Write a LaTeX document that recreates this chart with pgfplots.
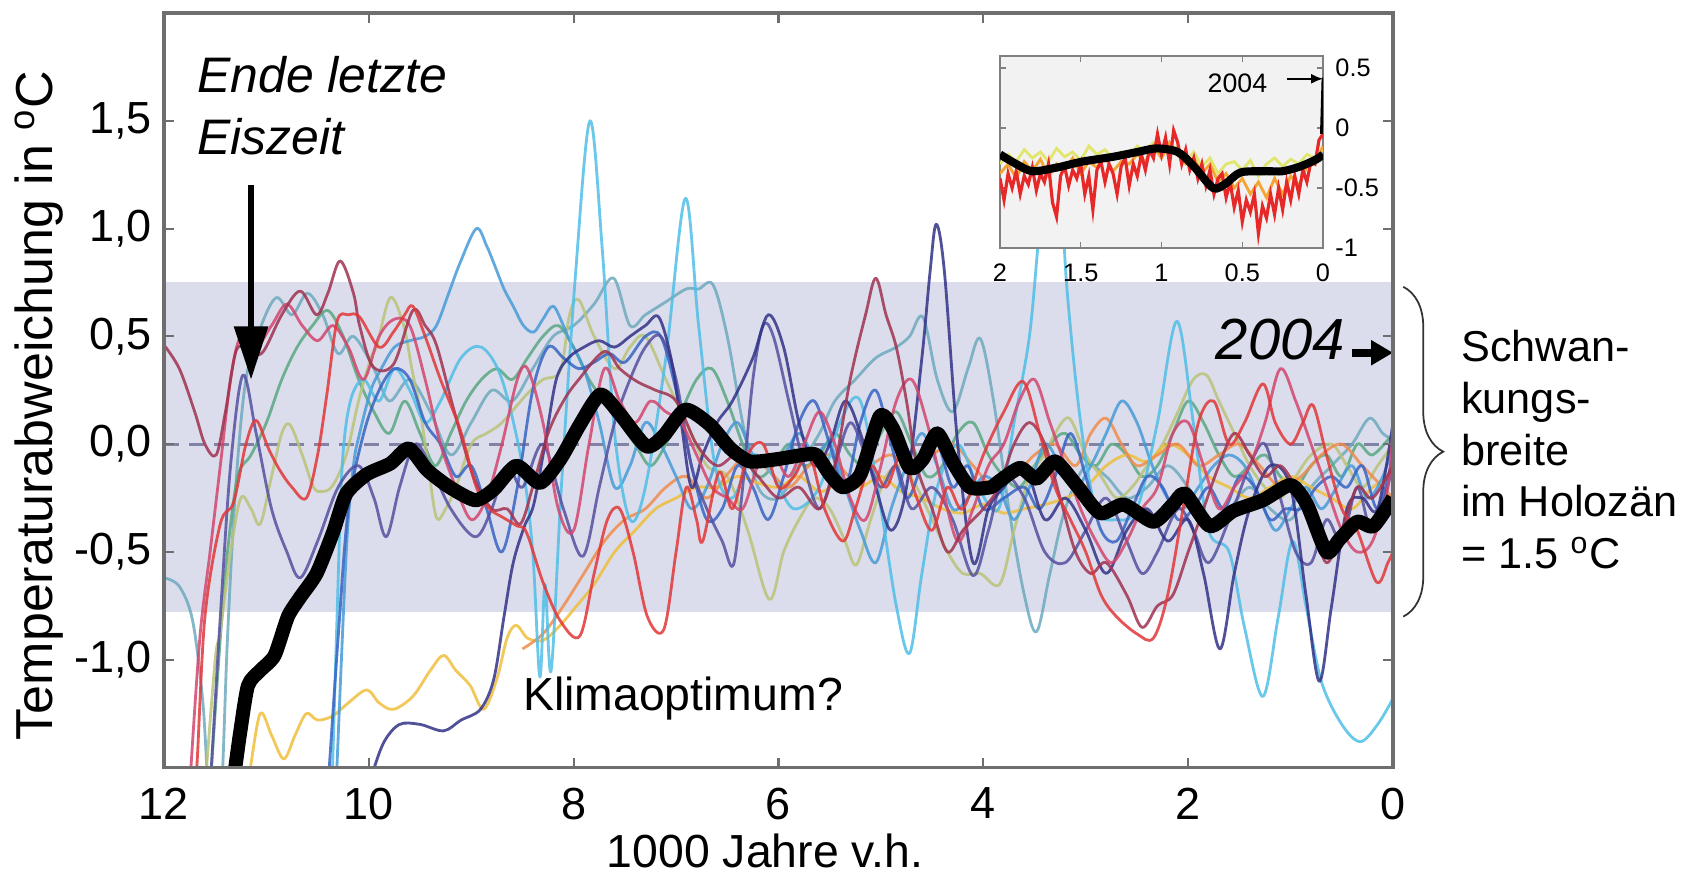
\documentclass[border=0pt]{standalone}
\usepackage{pgfplots}
\pgfplotsset{compat=1.18}
\usepackage{fontspec}
\setmainfont{Liberation Sans}
\usetikzlibrary{arrows.meta,decorations.pathreplacing}
\definecolor{bandcol}{RGB}{220,221,236}
\definecolor{zerodash}{RGB}{130,130,165}
\definecolor{framecol}{RGB}{110,110,110}
\definecolor{insetbg}{RGB}{242,242,242}
\definecolor{cyanL}{RGB}{80,190,230}
\definecolor{sky}{RGB}{70,155,215}
\definecolor{tealC}{RGB}{110,170,190}
\definecolor{navy}{RGB}{50,50,135}
\definecolor{purp}{RGB}{85,80,160}
\definecolor{blueR}{RGB}{55,100,195}
\definecolor{redC}{RGB}{225,55,55}
\definecolor{maroon}{RGB}{160,50,80}
\definecolor{crimson}{RGB}{210,70,110}
\definecolor{orangeC}{RGB}{240,140,75}
\definecolor{yellowC}{RGB}{238,190,60}
\definecolor{ygreen}{RGB}{185,196,120}
\definecolor{greenC}{RGB}{90,168,130}
\definecolor{insetred}{RGB}{230,40,40}
\definecolor{insetyel}{RGB}{225,230,110}
\definecolor{insetora}{RGB}{245,165,50}
\begin{document}
\begin{tikzpicture}
\useasboundingbox (-1.64,-1.065) rectangle (15.26,7.675);
\begin{axis}[
  at={(0,0)}, anchor=south west,
  scale only axis, width=12.29cm, height=7.545cm,
  xmin=0, xmax=12, x dir=reverse, ymin=-1.5, ymax=2.0,
  xtick={0,2,4,6,8,10,12}, xticklabels={0,2,4,6,8,10,12},
  ytick={-1,-0.5,0,0.5,1,1.5},
  yticklabels={{-1,0},{-0,5},{0,0},{0,5},{1,0},{1,5}},
  tick align=inside, major tick length=0.1cm,
  tick style={color=framecol, line width=0.6pt},
  axis line style={color=framecol, line width=0.9pt},
  ticklabel style={font=\fontsize{12.8}{15}\selectfont},
  xticklabel style={anchor=center, yshift=-0.36cm},
  yticklabel style={anchor=east},
  xlabel={1000 Jahre v.h.},
  xlabel style={at={(axis description cs:0.489,-0.1107)}, anchor=center, font=\fontsize{13.2}{16}\selectfont},
  ylabel={Temperaturabweichung in \textsuperscript{o}C},
  ylabel style={at={(axis description cs:-0.1017,0.48)}, anchor=center, font=\fontsize{14.8}{17}\selectfont},
  clip mode=individual, axis on top,
  every axis plot/.append style={line join=round},
]
% band and zero line
\addplot[fill=bandcol, draw=none] coordinates {(12,-0.78) (0,-0.78) (0,0.75) (12,0.75)};
\addplot[color=zerodash, line width=0.8pt, dash pattern=on 1.5mm off 1mm] coordinates {(12,0) (0,0)};

\pgfplotsset{proxy/.style={smooth, tension=0.55, line width=0.8pt, draw opacity=0.85}}
% teal
\addplot[proxy, color=tealC] coordinates {(12,-0.62) (11.85,-0.66) (11.72,-0.82) (11.62,-1.2) (11.55,-1.7) (11.45,-1.7) (11.38,-0.9) (11.3,-0.2) (11.2,0.3) (11.05,0.55) (10.9,0.68) (10.75,0.6) (10.6,0.7) (10.45,0.6) (10.3,0.42) (10.15,0.5) (9.95,0.35) (9.8,0.2) (9.6,0.3) (9.4,0.15) (9.2,-0.05) (9.0,0.1) (8.8,0.25) (8.6,0.2) (8.4,0.35) (8.2,0.5) (8.0,0.55) (7.8,0.65) (7.61,0.77) (7.45,0.55) (7.3,0.6) (7.1,0.66) (6.9,0.72) (6.78,0.72) (6.64,0.74) (6.5,0.5) (6.35,0.1) (6.2,-0.2) (6.0,-0.25) (5.8,-0.1) (5.6,0.05) (5.45,0.2) (5.25,0.3) (5.05,0.4) (4.85,0.45) (4.72,0.5) (4.59,0.59) (4.45,0.3) (4.3,0.15) (4.15,0.35) (4.03,0.49) (3.9,0.2) (3.75,-0.3) (3.6,-0.7) (3.48,-0.87) (3.35,-0.6) (3.2,-0.3) (3.0,-0.1) (2.8,-0.15) (2.6,-0.25) (2.4,-0.2) (2.2,-0.1) (2.0,-0.2) (1.8,-0.35) (1.6,-0.3) (1.4,-0.2) (1.2,-0.3) (1.0,-0.35) (0.8,-0.2) (0.6,-0.1) (0.4,0.0) (0.23,0.12) (0.1,0.05) (0.0,0.02)};
% green
\addplot[proxy, color=greenC] coordinates {(11.55,-1.6) (11.45,-0.9) (11.38,-0.5) (11.28,-0.15) (11.15,-0.05) (11.0,0.1) (10.85,0.3) (10.7,0.45) (10.55,0.55) (10.4,0.62) (10.25,0.5) (10.1,0.3) (9.95,0.15) (9.8,0.05) (9.65,0.2) (9.5,0.05) (9.35,-0.1) (9.2,0.05) (9.05,0.2) (8.9,0.3) (8.75,0.35) (8.6,0.3) (8.45,0.4) (8.3,0.5) (8.15,0.55) (8.0,0.45) (7.85,0.3) (7.7,0.2) (7.55,0.1) (7.4,0.0) (7.25,-0.1) (7.1,0.0) (6.95,0.15) (6.8,0.3) (6.65,0.35) (6.5,0.2) (6.35,0.0) (6.2,-0.15) (6.05,-0.1) (5.9,0.0) (5.75,-0.1) (5.6,-0.05) (5.45,0.05) (5.3,-0.05) (5.15,-0.1) (5.0,0.05) (4.85,0.15) (4.7,0.0) (4.55,-0.15) (4.4,-0.1) (4.25,0.05) (4.1,0.1) (3.95,-0.05) (3.8,-0.15) (3.65,-0.2) (3.5,-0.1) (3.35,0.0) (3.2,0.05) (3.05,-0.05) (2.9,-0.1) (2.75,0.0) (2.6,-0.05) (2.45,-0.15) (2.3,-0.1) (2.15,0.05) (2.0,0.2) (1.85,0.1) (1.7,-0.05) (1.55,-0.15) (1.4,-0.1) (1.25,-0.05) (1.1,-0.15) (0.95,-0.2) (0.8,-0.1) (0.65,-0.05) (0.5,-0.15) (0.35,0.0) (0.2,-0.05) (0.0,0.05)};
% yellow-green
\addplot[proxy, color=ygreen] coordinates {(11.6,-1.6) (11.5,-1.0) (11.45,-0.87) (11.35,-0.5) (11.25,-0.25) (11.15,-0.3) (11.06,-0.37) (10.95,-0.15) (10.85,0.05) (10.77,0.09) (10.65,-0.05) (10.54,-0.2) (10.45,-0.22) (10.35,-0.19) (10.22,-0.05) (10.1,0.2) (9.98,0.4) (9.92,0.46) (9.79,0.68) (9.66,0.55) (9.58,0.35) (9.5,0.16) (9.42,-0.1) (9.34,-0.34) (9.25,-0.3) (9.15,-0.2) (9.0,0.0) (8.85,0.05) (8.7,0.1) (8.46,0.23) (8.3,0.3) (8.13,0.34) (8.04,0.6) (7.95,0.67) (7.8,0.5) (7.6,0.35) (7.45,0.45) (7.3,0.5) (7.1,0.3) (6.9,0.1) (6.7,-0.1) (6.5,-0.15) (6.3,-0.4) (6.09,-0.72) (5.95,-0.5) (5.8,-0.35) (5.65,-0.25) (5.5,-0.3) (5.35,-0.45) (5.24,-0.56) (5.1,-0.35) (4.95,-0.15) (4.8,-0.1) (4.65,-0.2) (4.5,-0.35) (4.35,-0.5) (4.2,-0.6) (4.03,-0.6) (3.84,-0.65) (3.7,-0.4) (3.55,-0.15) (3.4,-0.05) (3.3,0.05) (3.16,0.12) (3.0,-0.05) (2.85,-0.15) (2.7,-0.25) (2.55,-0.2) (2.4,-0.1) (2.25,0.0) (2.1,0.15) (1.95,0.3) (1.82,0.32) (1.7,0.2) (1.55,0.05) (1.4,-0.1) (1.25,-0.2) (1.1,-0.25) (0.95,-0.15) (0.8,-0.05) (0.6,0.0) (0.45,-0.1) (0.3,-0.2) (0.15,-0.1) (0.0,0.0)};
% yellow
\addplot[proxy, color=yellowC] coordinates {(11.2,-1.6) (11.16,-1.51) (11.06,-1.25) (10.95,-1.35) (10.83,-1.46) (10.72,-1.35) (10.61,-1.25) (10.5,-1.28) (10.35,-1.26) (10.2,-1.2) (10.02,-1.14) (9.9,-1.2) (9.76,-1.23) (9.57,-1.17) (9.4,-1.05) (9.27,-0.98) (9.15,-1.05) (9.01,-1.12) (8.88,-1.23) (8.75,-1.09) (8.65,-0.9) (8.56,-0.84) (8.45,-0.9) (8.3,-0.91) (8.15,-0.85) (7.97,-0.75) (7.8,-0.65) (7.6,-0.5) (7.4,-0.4) (7.2,-0.3) (7.0,-0.25) (6.8,-0.2) (6.6,-0.2) (6.4,-0.15) (6.2,-0.18) (6.0,-0.2) (5.8,-0.15) (5.6,-0.22) (5.4,-0.18) (5.2,-0.2) (5.0,-0.15) (4.8,-0.22) (4.6,-0.25) (4.4,-0.3) (4.2,-0.32) (4.0,-0.28) (3.8,-0.32) (3.6,-0.3) (3.4,-0.28) (3.2,-0.25) (3.0,-0.2) (2.8,-0.1) (2.6,-0.05) (2.4,-0.08) (2.2,0.0) (2.0,-0.05) (1.8,-0.15) (1.6,-0.2) (1.4,-0.25) (1.2,-0.2) (1.0,-0.15) (0.8,-0.2) (0.6,-0.25) (0.4,-0.3) (0.2,-0.2) (0.0,-0.15)};
% orange
\addplot[proxy, color=orangeC] coordinates {(8.5,-0.95) (8.3,-0.88) (8.1,-0.75) (7.9,-0.6) (7.7,-0.45) (7.5,-0.35) (7.3,-0.3) (7.1,-0.2) (6.9,-0.15) (6.7,-0.25) (6.5,-0.14) (6.3,-0.05) (6.1,-0.12) (5.9,-0.2) (5.7,-0.1) (5.5,-0.05) (5.3,-0.15) (5.11,-0.1) (4.9,-0.05) (4.7,-0.12) (4.5,-0.05) (4.3,0.0) (4.1,-0.1) (3.9,-0.2) (3.7,-0.15) (3.5,-0.05) (3.3,0.0) (3.1,-0.1) (2.95,0.05) (2.8,0.12) (2.65,0.0) (2.5,-0.1) (2.3,-0.05) (2.1,0.0) (1.9,-0.1) (1.7,-0.05) (1.5,0.0) (1.3,-0.1) (1.1,-0.2) (0.9,-0.15) (0.7,-0.05) (0.5,0.0) (0.3,-0.1) (0.1,-0.2) (0.0,-0.25)};
% sky blue
\addplot[proxy, color=sky] coordinates {(10.32,-1.6) (10.22,-0.5) (10.15,-0.1) (10.09,0.05) (9.98,0.25) (9.89,0.34) (9.75,0.45) (9.6,0.48) (9.45,0.5) (9.34,0.55) (9.22,0.7) (9.11,0.84) (8.95,1.0) (8.85,0.92) (8.78,0.84) (8.68,0.72) (8.59,0.64) (8.49,0.55) (8.39,0.52) (8.3,0.58) (8.2,0.64) (8.1,0.55) (8.04,0.48) (7.9,0.35) (7.75,0.1) (7.6,-0.2) (7.45,-0.1) (7.3,0.1) (7.15,0.0) (7.0,-0.15) (6.85,-0.3) (6.7,-0.2) (6.55,0.0) (6.4,0.1) (6.25,-0.05) (6.1,-0.1) (5.95,-0.05) (5.8,0.05) (5.65,-0.05) (5.5,0.0) (5.35,-0.2) (5.2,-0.4) (5.05,-0.55) (4.9,-0.3) (4.75,-0.1) (4.6,0.05) (4.45,-0.1) (4.3,-0.3) (4.15,-0.25) (4.0,-0.15) (3.85,-0.2) (3.7,-0.35) (3.55,-0.2) (3.4,0.0) (3.25,-0.1) (3.1,-0.2) (2.95,-0.1) (2.8,0.05) (2.65,0.2) (2.5,0.1) (2.35,-0.1) (2.2,-0.25) (2.05,-0.3) (1.9,-0.2) (1.75,-0.1) (1.6,-0.05) (1.45,-0.1) (1.3,-0.25) (1.15,-0.4) (1.0,-0.3) (0.85,-0.2) (0.7,-0.3) (0.55,-0.2) (0.4,-0.1) (0.25,-0.25) (0.1,-0.15) (0.0,0.0)};
% cyan
\addplot[proxy, color=cyanL] coordinates {(10.36,-1.6) (10.31,-0.8) (10.26,-0.1) (10.18,0.2) (10.05,0.3) (9.9,0.2) (9.75,0.35) (9.6,0.25) (9.45,0.1) (9.3,0.2) (9.1,0.4) (8.9,0.45) (8.7,0.3) (8.5,-0.1) (8.4,-0.5) (8.33,-1.08) (8.28,-0.65) (8.22,-1.05) (8.12,-0.2) (7.98,0.8) (7.84,1.5) (7.72,0.9) (7.6,0.05) (7.45,-0.35) (7.3,-0.2) (7.1,0.4) (6.91,1.14) (6.78,0.55) (6.62,-0.1) (6.45,-0.25) (6.25,-0.05) (6.05,-0.15) (5.85,-0.3) (5.6,-0.2) (5.4,0.1) (5.2,0.2) (5.0,-0.3) (4.85,-0.75) (4.72,-0.97) (4.6,-0.6) (4.45,-0.2) (4.25,0.0) (4.05,-0.2) (3.85,-0.3) (3.7,0.1) (3.55,0.5) (3.45,1.0) (3.35,1.35) (3.25,1.2) (3.18,0.7) (3.05,0.1) (2.9,-0.3) (2.7,-0.35) (2.5,-0.3) (2.3,0.1) (2.11,0.57) (1.95,0.1) (1.8,-0.4) (1.6,-0.5) (1.45,-0.85) (1.27,-1.17) (1.12,-0.8) (0.98,-0.45) (0.85,-0.75) (0.7,-1.1) (0.5,-1.3) (0.32,-1.38) (0.15,-1.3) (0.0,-1.18)};
% royal blue
\addplot[proxy, color=blueR] coordinates {(10.4,-1.6) (10.3,-0.9) (10.2,-0.3) (10.05,0.05) (9.9,0.25) (9.75,0.35) (9.6,0.3) (9.45,0.1) (9.3,0.0) (9.15,-0.15) (9.0,-0.1) (8.85,-0.3) (8.7,-0.5) (8.55,-0.2) (8.4,0.25) (8.25,0.45) (8.1,0.4) (7.95,0.35) (7.8,0.38) (7.65,0.42) (7.5,0.38) (7.3,0.5) (7.15,0.5) (7.0,0.25) (6.85,-0.1) (6.7,-0.35) (6.55,-0.3) (6.4,-0.1) (6.25,-0.2) (6.1,-0.35) (5.95,-0.15) (5.8,0.1) (5.65,0.2) (5.5,0.0) (5.35,-0.2) (5.2,0.1) (5.05,0.25) (4.9,0.0) (4.75,-0.25) (4.6,-0.1) (4.45,0.0) (4.3,-0.2) (4.15,-0.1) (4.0,-0.3) (3.8,-0.25) (3.6,-0.2) (3.45,-0.3) (3.3,-0.15) (3.15,0.05) (3.0,-0.15) (2.85,-0.4) (2.7,-0.45) (2.55,-0.3) (2.4,-0.15) (2.25,-0.2) (2.1,-0.35) (1.95,-0.3) (1.8,-0.2) (1.65,-0.3) (1.5,-0.15) (1.35,-0.2) (1.2,-0.35) (1.05,-0.3) (0.9,-0.3) (0.75,-0.2) (0.6,-0.15) (0.45,-0.2) (0.3,-0.1) (0.15,-0.3) (0.0,-0.05)};
% purple navy
\addplot[proxy, color=purp] coordinates {(11.55,-1.6) (11.45,-0.8) (11.35,-0.1) (11.23,0.32) (11.1,0.05) (10.95,-0.3) (10.8,-0.5) (10.67,-0.62) (10.5,-0.45) (10.3,-0.2) (10.1,-0.1) (9.95,-0.25) (9.83,-0.43) (9.7,-0.2) (9.55,0.0) (9.4,-0.1) (9.2,-0.3) (8.96,-0.43) (8.8,-0.3) (8.65,-0.1) (8.5,-0.2) (8.3,0.0) (8.1,-0.3) (7.91,-0.52) (7.75,-0.2) (7.6,0.1) (7.45,0.3) (7.3,0.45) (7.15,0.5) (7.0,0.3) (6.85,-0.1) (6.7,-0.3) (6.55,-0.45) (6.44,-0.56) (6.35,-0.2) (6.25,0.3) (6.15,0.55) (6.05,0.5) (5.9,0.2) (5.75,-0.1) (5.6,-0.3) (5.45,-0.1) (5.3,0.1) (5.15,-0.05) (5.0,-0.2) (4.85,-0.1) (4.7,-0.3) (4.5,-0.2) (4.3,-0.35) (4.1,-0.61) (3.95,-0.4) (3.8,-0.15) (3.6,-0.25) (3.4,-0.5) (3.2,-0.55) (3.0,-0.4) (2.8,-0.25) (2.6,-0.45) (2.45,-0.6) (2.3,-0.5) (2.1,-0.3) (1.95,-0.4) (1.8,-0.55) (1.6,-0.35) (1.4,-0.1) (1.25,0.0) (1.1,-0.25) (0.95,-0.5) (0.8,-0.55) (0.65,-0.35) (0.5,-0.45) (0.35,-0.2) (0.2,-0.4) (0.0,-0.1)};
% navy
\addplot[proxy, color=navy] coordinates {(10.0,-1.6) (9.96,-1.52) (9.85,-1.38) (9.7,-1.3) (9.5,-1.3) (9.27,-1.33) (9.1,-1.28) (8.91,-1.23) (8.78,-1.09) (8.68,-0.8) (8.59,-0.55) (8.48,-0.38) (8.39,-0.28) (8.28,0.0) (8.17,0.3) (8.05,0.4) (7.9,0.45) (7.75,0.48) (7.6,0.45) (7.45,0.5) (7.3,0.55) (7.17,0.59) (7.05,0.4) (6.95,0.1) (6.85,-0.2) (6.74,-0.05) (6.6,0.1) (6.45,0.2) (6.25,0.4) (6.1,0.6) (5.95,0.45) (5.8,0.1) (5.65,-0.1) (5.5,0.0) (5.35,0.2) (5.2,0.05) (5.05,-0.2) (4.9,-0.4) (4.75,-0.2) (4.6,0.4) (4.52,0.8) (4.46,1.02) (4.38,0.8) (4.25,0.0) (4.1,-0.55) (3.95,-0.3) (3.8,-0.2) (3.6,-0.1) (3.4,-0.35) (3.2,-0.25) (3.0,-0.4) (2.8,-0.6) (2.6,-0.4) (2.4,-0.3) (2.2,-0.45) (2.0,-0.35) (1.85,-0.6) (1.69,-0.95) (1.55,-0.6) (1.4,-0.3) (1.2,-0.1) (1.0,-0.2) (0.85,-0.7) (0.72,-1.1) (0.6,-0.75) (0.45,-0.3) (0.3,-0.25) (0.15,-0.3) (0.0,0.1)};
% crimson
\addplot[proxy, color=crimson] coordinates {(11.75,-1.6) (11.65,-0.9) (11.55,-0.5) (11.45,-0.1) (11.35,0.3) (11.25,0.5) (11.1,0.45) (10.95,0.55) (10.8,0.65) (10.65,0.55) (10.5,0.48) (10.35,0.55) (10.2,0.45) (10.05,0.3) (9.9,0.5) (9.75,0.58) (9.6,0.55) (9.45,0.3) (9.3,0.0) (9.15,-0.2) (9.0,-0.35) (8.85,-0.25) (8.7,0.0) (8.55,0.3) (8.45,0.35) (8.3,0.1) (8.15,-0.3) (8.0,-0.4) (7.85,0.0) (7.7,0.35) (7.55,0.2) (7.4,0.1) (7.25,0.2) (7.1,0.15) (6.95,0.1) (6.8,-0.05) (6.65,-0.2) (6.5,-0.25) (6.35,-0.3) (6.2,-0.1) (6.05,-0.05) (5.9,-0.15) (5.75,0.0) (5.6,0.15) (5.45,0.0) (5.3,-0.25) (5.15,-0.35) (5.0,-0.1) (4.85,0.2) (4.7,0.3) (4.55,0.1) (4.4,-0.2) (4.25,-0.45) (4.1,-0.3) (3.95,-0.1) (3.8,0.0) (3.65,0.2) (3.5,0.3) (3.35,0.1) (3.2,-0.1) (3.05,-0.3) (2.9,-0.45) (2.75,-0.55) (2.6,-0.45) (2.45,-0.3) (2.3,-0.2) (2.15,0.05) (2.0,0.1) (1.85,-0.1) (1.7,-0.3) (1.55,-0.2) (1.4,-0.1) (1.25,0.1) (1.1,0.35) (0.95,0.2) (0.8,0.0) (0.65,-0.2) (0.5,-0.4) (0.35,-0.5) (0.2,-0.45) (0.05,-0.2) (0.0,0.1)};
% maroon
\addplot[proxy, color=maroon] coordinates {(12.0,0.46) (11.85,0.35) (11.7,0.15) (11.6,0.0) (11.49,-0.05) (11.4,0.15) (11.29,0.44) (11.15,0.42) (11.03,0.43) (10.85,0.6) (10.67,0.71) (10.51,0.6) (10.4,0.7) (10.28,0.85) (10.15,0.7) (10.09,0.55) (9.96,0.36) (9.76,0.37) (9.57,0.62) (9.45,0.55) (9.34,0.46) (9.17,0.16) (8.98,-0.15) (8.8,-0.3) (8.65,-0.3) (8.52,-0.37) (8.4,-0.2) (8.25,0.05) (8.1,0.2) (7.95,0.3) (7.7,0.43) (7.55,0.35) (7.38,0.29) (7.2,0.25) (7.0,0.2) (6.8,0.0) (6.6,-0.1) (6.4,-0.05) (6.2,-0.15) (6.0,-0.25) (5.8,-0.2) (5.6,-0.3) (5.45,-0.1) (5.3,0.3) (5.15,0.6) (5.05,0.77) (4.95,0.6) (4.85,0.45) (4.75,0.2) (4.65,-0.1) (4.5,-0.3) (4.35,-0.5) (4.2,-0.4) (4.0,-0.3) (3.85,-0.2) (3.7,0.0) (3.55,0.1) (3.4,0.0) (3.25,-0.25) (3.1,-0.5) (2.95,-0.6) (2.8,-0.55) (2.6,-0.7) (2.45,-0.85) (2.3,-0.75) (2.15,-0.7) (2.0,-0.5) (1.85,-0.3) (1.7,-0.1) (1.55,0.05) (1.4,-0.05) (1.25,-0.15) (1.1,-0.1) (0.95,-0.2) (0.8,-0.35) (0.65,-0.55) (0.5,-0.4) (0.35,-0.2) (0.2,-0.25) (0.0,-0.1)};
% red
\addplot[proxy, color=redC] coordinates {(11.72,-1.6) (11.68,-1.5) (11.6,-0.8) (11.45,-0.37) (11.32,-0.27) (11.2,0.0) (11.1,0.11) (10.98,-0.02) (10.87,-0.12) (10.75,-0.2) (10.61,-0.25) (10.5,-0.05) (10.41,0.23) (10.31,0.57) (10.2,0.6) (10.09,0.59) (9.9,0.45) (9.76,0.52) (9.65,0.6) (9.57,0.64) (9.45,0.5) (9.3,0.3) (9.11,0.07) (8.95,-0.2) (8.82,-0.3) (8.69,-0.34) (8.55,-0.38) (8.46,-0.41) (8.3,-0.64) (8.13,-0.82) (7.94,-0.89) (7.8,-0.6) (7.67,-0.35) (7.55,-0.3) (7.42,-0.5) (7.28,-0.8) (7.12,-0.86) (7.0,-0.5) (6.9,-0.2) (6.8,-0.35) (6.74,-0.45) (6.58,-0.13) (6.45,-0.3) (6.3,-0.05) (6.15,0.0) (6.0,-0.2) (5.85,-0.15) (5.7,-0.05) (5.55,-0.3) (5.37,-0.45) (5.25,-0.3) (5.1,-0.1) (4.95,-0.2) (4.8,-0.05) (4.65,-0.25) (4.5,-0.4) (4.35,-0.2) (4.2,-0.3) (4.0,-0.05) (3.8,0.15) (3.61,0.29) (3.45,0.05) (3.3,-0.2) (3.15,-0.35) (3.0,-0.5) (2.85,-0.7) (2.7,-0.8) (2.5,-0.88) (2.34,-0.9) (2.2,-0.7) (2.05,-0.3) (1.9,0.1) (1.75,0.2) (1.6,0.0) (1.45,0.1) (1.27,0.28) (1.15,0.1) (1.0,0.0) (0.88,0.1) (0.78,0.18) (0.65,-0.05) (0.5,-0.3) (0.35,-0.4) (0.16,-0.64) (0.05,-0.55) (0.0,-0.5)};
% mean (black)
\addplot[smooth, tension=0.4, color=black, line width=4pt] coordinates {(11.36,-1.65) (11.31,-1.52) (11.26,-1.35) (11.18,-1.12) (11.06,-1.05) (10.92,-0.98) (10.79,-0.8) (10.67,-0.71) (10.51,-0.6) (10.35,-0.41) (10.22,-0.23) (10.02,-0.14) (9.79,-0.09) (9.61,-0.02) (9.43,-0.12) (9.21,-0.2) (8.96,-0.26) (8.78,-0.21) (8.56,-0.1) (8.33,-0.18) (8.13,-0.07) (7.94,0.09) (7.74,0.23) (7.55,0.14) (7.29,-0.01) (7.12,0.04) (6.91,0.16) (6.67,0.09) (6.47,-0.02) (6.28,-0.08) (6.02,-0.07) (5.76,-0.05) (5.63,-0.05) (5.5,-0.14) (5.37,-0.2) (5.2,-0.14) (5.01,0.13) (4.88,0.07) (4.72,-0.11) (4.59,-0.07) (4.45,0.05) (4.29,-0.09) (4.13,-0.2) (3.93,-0.2) (3.84,-0.17) (3.64,-0.11) (3.48,-0.16) (3.3,-0.08) (3.09,-0.19) (2.86,-0.32) (2.63,-0.28) (2.34,-0.36) (2.15,-0.28) (2.03,-0.23) (1.79,-0.38) (1.56,-0.31) (1.27,-0.26) (1.0,-0.19) (0.84,-0.28) (0.65,-0.5) (0.52,-0.44) (0.35,-0.36) (0.19,-0.38) (0.0,-0.25)};

% annotations
\node[anchor=base west, inner sep=0, font=\itshape\fontsize{14.2}{17}\selectfont] at (axis cs:11.68,1.63) {Ende letzte};
\node[anchor=base west, inner sep=0, font=\itshape\fontsize{14.2}{17}\selectfont] at (axis cs:11.68,1.342) {Eiszeit};
\draw[line width=1.6pt, -{Triangle[length=5.3mm,width=3.3mm]}] (axis cs:11.15,1.20) -- (axis cs:11.15,0.30);
\node[anchor=west, inner sep=0, font=\fontsize{13.2}{16}\selectfont] at (axis cs:8.50,-1.18) {Klimaoptimum?};
\node[anchor=center, inner sep=0, font=\itshape\fontsize{16.5}{19}\selectfont] at (axis cs:1.10,0.484) {2004};
\draw[line width=2.2pt, -{Triangle[length=2.2mm,width=2.4mm]}] (axis cs:0.40,0.424) -- (axis cs:0.0,0.424);
\draw[decorate, decoration={brace, amplitude=4mm}, color=black!80, line width=0.5pt] (axis cs:-0.10,0.73) -- (axis cs:-0.10,-0.80);
\node[anchor=north west, align=left, inner sep=0, font=\fontsize{12.3}{14.7}\selectfont] at (axis cs:-0.66,0.53) {Schwan-\\kungs-\\breite\\im Holozän\\= 1.5 \textsuperscript{o}C};
\end{axis}

% inset
\begin{axis}[
  at={(8.36cm,5.195cm)}, anchor=south west,
  scale only axis, width=3.23cm, height=1.92cm,
  xmin=0, xmax=2, x dir=reverse, ymin=-1, ymax=0.6,
  axis background/.style={fill=insetbg},
  xtick={0,0.5,1,1.5,2}, xticklabels={0,0.5,1,1.5,2},
  ytick={-1,-0.5,0,0.5}, yticklabels={-1,-0.5,0,0.5},
  yticklabel pos=right,
  tick align=inside, major tick length=0.06cm,
  tick style={color=gray, line width=0.4pt},
  axis line style={color=gray, line width=0.5pt},
  ticklabel style={font=\fontsize{7.2}{8}\selectfont},
  xticklabel style={anchor=center, yshift=-0.25cm},
  yticklabel style={anchor=west},
  clip mode=individual,
]
\addplot[color=insetyel, line width=0.8pt] coordinates {(2.0,-0.3) (1.95,-0.22) (1.9,-0.28) (1.85,-0.18) (1.8,-0.25) (1.75,-0.2) (1.7,-0.28) (1.65,-0.17) (1.6,-0.24) (1.55,-0.2) (1.5,-0.27) (1.45,-0.15) (1.4,-0.22) (1.35,-0.18) (1.3,-0.26) (1.25,-0.2) (1.2,-0.24) (1.15,-0.15) (1.1,-0.2) (1.05,-0.12) (1.0,-0.18) (0.95,-0.22) (0.9,-0.15) (0.85,-0.28) (0.8,-0.2) (0.75,-0.32) (0.7,-0.25) (0.65,-0.38) (0.6,-0.3) (0.55,-0.28) (0.5,-0.35) (0.45,-0.27) (0.4,-0.4) (0.35,-0.3) (0.3,-0.25) (0.25,-0.32) (0.2,-0.26) (0.15,-0.3) (0.1,-0.22) (0.05,-0.25) (0.0,-0.18)};
\addplot[color=insetora, line width=0.8pt] coordinates {(2.0,-0.38) (1.95,-0.3) (1.9,-0.42) (1.85,-0.28) (1.8,-0.36) (1.75,-0.26) (1.7,-0.4) (1.65,-0.3) (1.6,-0.35) (1.55,-0.25) (1.5,-0.38) (1.45,-0.28) (1.4,-0.33) (1.35,-0.24) (1.3,-0.36) (1.25,-0.28) (1.2,-0.3) (1.15,-0.22) (1.1,-0.28) (1.05,-0.15) (1.0,-0.25) (0.95,-0.12) (0.9,-0.22) (0.85,-0.3) (0.8,-0.25) (0.75,-0.38) (0.7,-0.3) (0.65,-0.45) (0.6,-0.38) (0.55,-0.5) (0.5,-0.42) (0.45,-0.55) (0.4,-0.45) (0.35,-0.58) (0.3,-0.42) (0.25,-0.55) (0.2,-0.4) (0.15,-0.48) (0.1,-0.32) (0.05,-0.3) (0.0,-0.15)};
\addplot[color=insetred, line width=0.9pt] coordinates {(2.0,-0.42) (1.975,-0.6) (1.95,-0.38) (1.925,-0.5) (1.9,-0.36) (1.875,-0.55) (1.85,-0.4) (1.825,-0.47) (1.8,-0.33) (1.775,-0.52) (1.75,-0.38) (1.725,-0.45) (1.7,-0.3) (1.675,-0.62) (1.65,-0.74) (1.625,-0.4) (1.6,-0.32) (1.575,-0.48) (1.55,-0.35) (1.525,-0.42) (1.5,-0.3) (1.475,-0.55) (1.45,-0.4) (1.425,-0.68) (1.4,-0.35) (1.375,-0.28) (1.35,-0.45) (1.325,-0.3) (1.3,-0.38) (1.275,-0.55) (1.25,-0.32) (1.225,-0.25) (1.2,-0.48) (1.175,-0.3) (1.15,-0.4) (1.125,-0.22) (1.1,-0.35) (1.075,-0.18) (1.05,-0.25) (1.025,-0.05) (1.0,-0.22) (0.975,-0.08) (0.95,-0.3) (0.925,-0.02) (0.9,-0.12) (0.875,-0.3) (0.85,-0.18) (0.825,-0.35) (0.8,-0.25) (0.775,-0.42) (0.75,-0.3) (0.725,-0.48) (0.7,-0.35) (0.675,-0.55) (0.65,-0.42) (0.625,-0.38) (0.6,-0.58) (0.575,-0.45) (0.55,-0.66) (0.525,-0.52) (0.5,-0.78) (0.475,-0.6) (0.45,-0.7) (0.425,-0.55) (0.4,-0.88) (0.375,-0.65) (0.35,-0.75) (0.325,-0.55) (0.3,-0.72) (0.275,-0.5) (0.25,-0.68) (0.225,-0.45) (0.2,-0.6) (0.175,-0.4) (0.15,-0.55) (0.125,-0.35) (0.1,-0.45) (0.075,-0.28) (0.05,-0.3) (0.025,-0.1) (0.0,-0.05)};
\addplot[smooth, color=black, line width=2.3pt] coordinates {(2.0,-0.22) (1.9,-0.3) (1.8,-0.36) (1.65,-0.33) (1.49,-0.28) (1.3,-0.24) (1.15,-0.2) (1.03,-0.17) (0.9,-0.2) (0.8,-0.32) (0.68,-0.5) (0.6,-0.46) (0.51,-0.37) (0.35,-0.36) (0.25,-0.36) (0.14,-0.32) (0.04,-0.26) (0.0,-0.22)};
\addplot[color=black, line width=0.8pt] coordinates {(0.01,-0.05) (0.0,0.42)};
\node[anchor=center, inner sep=0, font=\fontsize{7.6}{9}\selectfont] at (axis cs:0.53,0.375) {2004};
\draw[line width=0.5pt, -{Latex[length=1.2mm,width=1mm]}] (axis cs:0.22,0.41) -- (axis cs:0.0,0.41);
\end{axis}
\end{tikzpicture}
\end{document}
